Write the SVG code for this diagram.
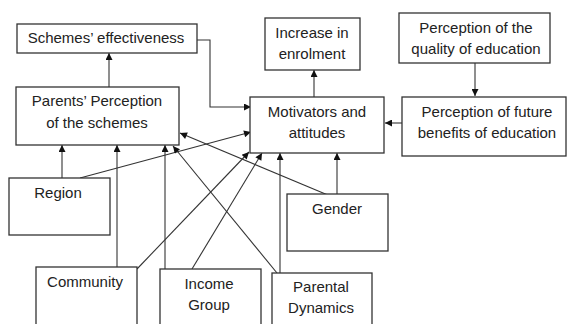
<svg xmlns="http://www.w3.org/2000/svg" width="567" height="324" viewBox="0 0 567 324">
<defs>
<marker id="ah" viewBox="0 0 10 10" refX="10" refY="5" markerWidth="9" markerHeight="7" markerUnits="userSpaceOnUse" orient="auto">
<path d="M0,0 L10,5 L0,10 z" fill="#111"/>
</marker>
<style>
.box{fill:#fff;stroke:#333;stroke-width:1.3}
.t{font-family:"Liberation Sans",Arial,sans-serif;font-size:15px;fill:#222;text-anchor:middle}
.c{fill:none;stroke:#333;stroke-width:1.1;marker-end:url(#ah)}
</style>
</defs>
<rect width="567" height="324" fill="#fff"/>
<g id="connectors">
<line class="c" x1="109" y1="87" x2="109" y2="53"/>
<polyline class="c" points="197,40 210,40 210,107 251,107"/>
<line class="c" x1="314" y1="97" x2="314" y2="70"/>
<line class="c" x1="475" y1="58" x2="475" y2="96"/>
<line class="c" x1="402" y1="123" x2="385" y2="123"/>
<line class="c" x1="62" y1="178" x2="62" y2="145"/>
<line class="c" x1="80" y1="178" x2="251" y2="132"/>
<line class="c" x1="117" y1="269" x2="117" y2="145"/>
<line class="c" x1="137" y1="269" x2="249" y2="152"/>
<line class="c" x1="165" y1="269" x2="165" y2="145"/>
<line class="c" x1="192" y1="269" x2="262" y2="153"/>
<line class="c" x1="277" y1="273" x2="173" y2="146"/>
<line class="c" x1="280" y1="273" x2="280" y2="153"/>
<line class="c" x1="335" y1="198" x2="180" y2="133"/>
<line class="c" x1="337" y1="194" x2="337" y2="153"/>
</g>
<g id="schemes"><rect class="box" x="17" y="24" width="180" height="29"/><text class="t" x="106" y="43">Schemes’ effectiveness</text></g>
<g id="parents"><rect class="box" x="16" y="87" width="163" height="58"/><text class="t" x="97" y="106">Parents’ Perception</text><text class="t" x="97" y="128">of the schemes</text></g>
<g id="enrolment"><rect class="box" x="265" y="18" width="95" height="52"/><text class="t" x="312" y="38">Increase in</text><text class="t" x="312" y="59">enrolment</text></g>
<g id="quality"><rect class="box" x="399" y="13" width="151" height="50"/><text class="t" x="476" y="33">Perception of the</text><text class="t" x="476" y="54">quality of education</text></g>
<g id="motivators"><rect class="box" x="250" y="97" width="134" height="56"/><text class="t" x="317" y="117">Motivators and</text><text class="t" x="317" y="138">attitudes</text></g>
<g id="future"><rect class="box" x="402" y="97" width="164" height="59"/><text class="t" x="487" y="117">Perception of future</text><text class="t" x="487" y="138">benefits of education</text></g>
<g id="region"><rect class="box" x="9" y="178" width="101" height="57"/><text class="t" x="58" y="198">Region</text></g>
<g id="gender"><rect class="box" x="287" y="194" width="101" height="57"/><text class="t" x="337" y="214">Gender</text></g>
<g id="community"><rect class="box" x="36" y="267" width="101" height="60"/><text class="t" x="85" y="287">Community</text></g>
<g id="income"><rect class="box" x="160" y="269" width="101" height="60"/><text class="t" x="209" y="289">Income</text><text class="t" x="209" y="310">Group</text></g>
<g id="parental"><rect class="box" x="272" y="273" width="100" height="56"/><text class="t" x="321" y="292">Parental</text><text class="t" x="321" y="313">Dynamics</text></g>
</svg>
